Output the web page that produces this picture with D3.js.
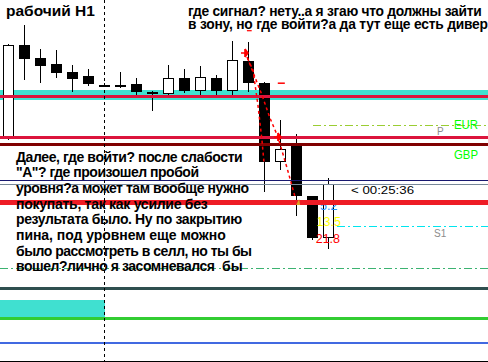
<!DOCTYPE html>
<html><head><meta charset="utf-8">
<script src="https://cdn.jsdelivr.net/npm/d3@7"></script>
<style>html,body{margin:0;padding:0;background:#fff;overflow:hidden}svg{display:block}</style>
</head><body><svg id="c" width="488" height="362"></svg>
<script>
// ---- data ----
const bars   = d3.range(21);
const opens  = [1.51625,1.5255,1.52425,1.5236,1.52285,1.5224,1.52155,1.5215,1.5216,1.5208,1.52065,1.5222,1.52095,1.5222,1.52095,1.5239,1.5217,1.51385,1.51545,1.5104,1.50625];
const highs  = [1.52565,1.5275,1.5251,1.525,1.5235,1.5231,1.5217,1.52285,1.5222,1.5209,1.5235,1.5231,1.5234,1.5225,1.5259,1.5258,1.5218,1.518,1.5166,1.5104,1.5122];
const lows   = [1.51605,1.522,1.52175,1.52225,1.52085,1.52145,1.5213,1.52125,1.5205,1.51895,1.52035,1.52075,1.52025,1.52035,1.5205,1.52085,1.5108,1.513,1.50845,1.50605,1.50515];
const closes = [1.5255,1.52415,1.52345,1.52275,1.52215,1.52165,1.5215,1.52145,1.5208,1.52075,1.52215,1.5209,1.5223,1.52095,1.52395,1.52175,1.51385,1.5151,1.51045,1.50625,1.51155];

const levelPrices = [1.52035,1.51625,1.51555,1.5175,1.51195,1.51155,1.50975,1.50735,1.50315,1.50115,1.49815,1.4957];
const levelFrom   = [0,0,0,19,0,0,0,20.5,0,0,0,0];
const zoneTop     = [1.5210,1.5000];
const zoneBottom  = [1.5200,1.4983];
const zoneTo      = [30,6];
const separatorBar = 6;

const path1Bars   = [14.78,15.28,15.59,15.84,15.97];
const path1Prices = [1.5247,1.523,1.5195,1.516,1.5137];
const path2Bars   = [14.91,15.84,16.34,16.84,17.41,17.91];
const path2Prices = [1.5243,1.5205,1.5182,1.5163,1.5132,1.5103];

const titleText = "рабочий H1";
const topLines = ["где сигнал? нету..а я згаю что должны зайти","в зону, но где войти?а да тут еще есть дивер"];
const noteLines = ["Далее, где войти? после слабости","\"А\"? где произошел пробой","уровня?а может там вообще нужно","покупать, так как усилие без","результата было. Ну по закрытию","пина, под уровнем еще можно","было рассмотреть в селл, но ты бы","вошел?лично я засомневался"];
const noteTail = "бы";
const rightLabels = ["EUR","GBP"];
const pivotLabels = ["P","S1"];
const timerText = "< 00:25:36";
const statValues = ["5.2","13.5","21.8"];
const statPrices = [1.50905, 1.50743, 1.50573];
const statBars   = [19.47, 19.25, 19.2];

// ---- styles ----
const levelStyle = [
  {c:"#DC143C",w:3},{c:"#DC143C",w:3},{c:"#800000",w:3},{c:"#9ACD32",w:1,d:"8,3,2,3"},
  {c:"#191970",w:1},{c:"#778899",w:1},{c:"#EE1C25",w:5},{c:"#00E5EE",w:1,d:"8,3,2,3"},
  {c:"#3CB371",w:1,d:"8,3,2,3"},{c:"#2F4F4F",w:3},{c:"#32CD32",w:3},{c:"#4169E1",w:2}];
const noteWidths = [226.7,183,233,191.7,226.3,209.7,236,199];
const topWidths  = [293.7,300];
const FONT = "'Liberation Sans', Arial, sans-serif";

const W = 488, H = 362;
const svg = d3.select("#c");
const x = d3.scaleLinear().domain([0, 20]).range([8.5, 328.5]);
const y = d3.scaleLinear().domain([1.5300, 1.4938]).range([0, 362]);

svg.append("rect").attr("width",W).attr("height",H).attr("fill","#fff");

// zones
const zg = svg.append("g").attr("shape-rendering","crispEdges");
zoneTop.forEach((t,i)=>{
  zg.append("rect").attr("x",0).attr("y",y(t))
    .attr("width",Math.min(W,x(zoneTo[i]))).attr("height",y(zoneBottom[i])-y(t))
    .attr("fill","#40E0D0");
});

// candles
const cg = svg.append("g").attr("shape-rendering","crispEdges");
bars.forEach(i=>{
  const c = x(i);
  cg.append("line").attr("x1",c).attr("x2",c).attr("y1",y(highs[i])).attr("y2",y(lows[i]))
    .attr("stroke","#000").attr("stroke-width",1);
  const yo = y(opens[i]), yc = y(closes[i]);
  if (Math.abs(yo-yc) < 1.5) {
    cg.append("line").attr("x1",c-5.5).attr("x2",c+5.5).attr("y1",Math.round(yo)+0.5).attr("y2",Math.round(yo)+0.5)
      .attr("stroke","#000").attr("stroke-width",2);
  } else if (closes[i] < opens[i]) {
    cg.append("rect").attr("x",c-5.5).attr("y",yo).attr("width",11).attr("height",yc-yo).attr("fill","#000");
  } else {
    cg.append("rect").attr("x",c-5).attr("y",yc).attr("width",10).attr("height",yo-yc)
      .attr("fill","#fff").attr("stroke","#000").attr("stroke-width",1);
  }
});

// stat labels near last bar
const statColors = ["#1E90FF","#FFFF00","#FF0000"];
statValues.forEach((s,i)=>{
  svg.append("text").attr("x",x(statBars[i])).attr("y",y(statPrices[i])).attr("font-family",FONT)
    .attr("font-size",12.5).attr("fill",statColors[i]).text(s);
});

// levels
const lg = svg.append("g").attr("shape-rendering","crispEdges");
levelPrices.forEach((p,i)=>{
  const s = levelStyle[i];
  lg.append("line").attr("x1",levelFrom[i]===0?0:x(levelFrom[i])).attr("x2",W)
    .attr("y1",y(p)).attr("y2",y(p)).attr("stroke",s.c).attr("stroke-width",s.w)
    .attr("stroke-dasharray",s.d||null);
});
// bottom border
lg.append("line").attr("x1",0).attr("x2",W).attr("y1",361.5).attr("y2",361.5).attr("stroke","#000");

// red trend paths
const line = d3.line();
[[path1Bars,path1Prices],[path2Bars,path2Prices]].forEach(([bx,py])=>{
  svg.append("path").attr("d",line(bx.map((b,k)=>[x(b),y(py[k])])))
    .attr("fill","none").attr("stroke","#FF0000").attr("stroke-width",1.5).attr("stroke-dasharray","3,3");
});
// arrow markers
[[path1Bars[0],path1Prices[0]],[path2Bars[3],path2Prices[3]]].forEach(([b,p])=>{
  const cx=x(b), cy=y(p);
  svg.append("path").attr("d",`M${cx-4},${cy}L${cx+3},${cy}M${cx},${cy-4}L${cx},${cy+4}M${cx},${cy-4}L${cx+3},${cy}L${cx},${cy+4}`)
    .attr("stroke","#FF0000").attr("stroke-width",1.6).attr("fill","#FF0000");
});
// small red marks
svg.append("line").attr("x1",x(16.83)).attr("x2",x(17.27)).attr("y1",y(1.52168)).attr("y2",y(1.52168))
  .attr("stroke","#FF0000").attr("stroke-width",1.5);
svg.append("line").attr("x1",x(14.9)).attr("x2",x(15.2)).attr("y1",y(1.52693)).attr("y2",y(1.52693))
  .attr("stroke","#FF0000").attr("stroke-width",1.2);
// orange arrow mark
{
  const cx=x(18.1), cy=y(1.5098);
  svg.append("path").attr("d",`M${cx-2},${cy+3}L${cx+1},${cy-3}L${cx+2},${cy+3}Z`).attr("fill","#DAA520");
}

// texts
svg.append("text").attr("x",6).attr("y",15.7).attr("font-family",FONT).attr("font-weight","bold")
  .attr("font-size",15.5).attr("fill","#000").text(titleText);
topLines.forEach((t,i)=>{
  svg.append("text").attr("x",188).attr("y",15.5+13.5*i).attr("font-family",FONT).attr("font-weight","bold")
    .attr("font-size",13.8).attr("fill","#000").attr("textLength",topWidths[i]).attr("lengthAdjust","spacing").text(t);
});
noteLines.forEach((t,i)=>{
  svg.append("text").attr("x",16).attr("y",161.7+15.67*i).attr("font-family",FONT).attr("font-weight","bold")
    .attr("font-size",14).attr("fill","#000").attr("textLength",noteWidths[i]).attr("lengthAdjust","spacing").text(t);
});
svg.append("text").attr("x",222).attr("y",270.5).attr("font-family",FONT).attr("font-weight","bold")
  .attr("font-size",14).attr("fill","#000").text(noteTail);

rightLabels.forEach((t,i)=>{
  svg.append("text").attr("x",454).attr("y",128.5+30*i).attr("font-family",FONT)
    .attr("font-size",12.5).attr("fill","#00FF00").attr("textLength",24).attr("lengthAdjust","spacingAndGlyphs").text(t);
});
svg.append("text").attr("x",437).attr("y",135).attr("font-family",FONT).attr("font-size",10).attr("fill","#8C8C8C").text(pivotLabels[0]);
svg.append("text").attr("x",434).attr("y",237).attr("font-family",FONT).attr("font-size",10).attr("fill","#8C8C8C").text(pivotLabels[1]);
svg.append("text").attr("x",351).attr("y",194).attr("font-family",FONT).attr("font-size",10.5).attr("fill","#000")
  .attr("textLength",63).attr("lengthAdjust","spacingAndGlyphs").text(timerText);

// period separator
svg.append("line").attr("x1",x(separatorBar)).attr("x2",x(separatorBar)).attr("y1",0).attr("y2",H)
  .attr("stroke","#000").attr("stroke-width",1).attr("stroke-dasharray","3,3").attr("shape-rendering","crispEdges");
</script></body></html>
